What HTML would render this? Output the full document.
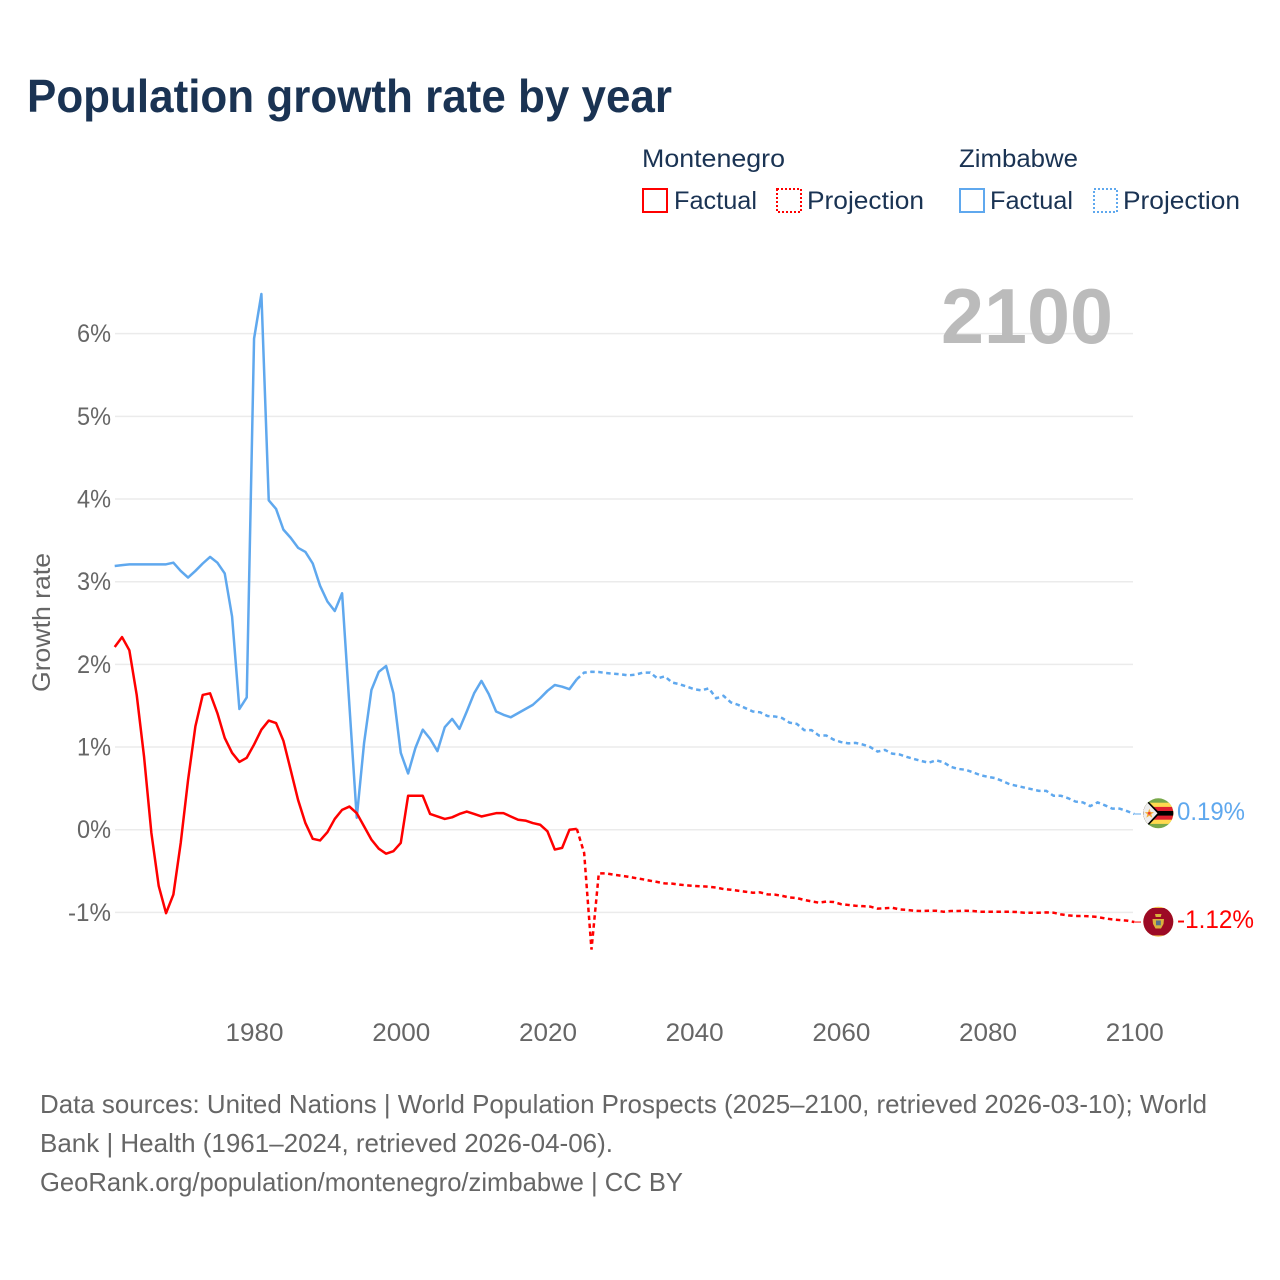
<!DOCTYPE html>
<html lang="en">
<head>
<meta charset="utf-8">
<title>Population growth rate by year</title>
<style>
html,body{margin:0;padding:0;background:#fff;}
svg{display:block;}
text{font-family:"Liberation Sans",sans-serif;}
</style>
</head>
<body>
<svg id="chart" xmlns="http://www.w3.org/2000/svg" width="1280" height="1280" viewBox="0 0 1280 1280">
  <text x="27" y="112" font-size="46" font-weight="700" fill="#1a3353" textLength="645" lengthAdjust="spacingAndGlyphs">Population growth rate by year</text>

  <g font-size="25" fill="#1a3353">
    <text x="642" y="167" textLength="143" lengthAdjust="spacingAndGlyphs">Montenegro</text>
    <text x="959" y="167" textLength="119" lengthAdjust="spacingAndGlyphs">Zimbabwe</text>
    <rect x="643" y="189" width="24" height="23" fill="none" stroke="#ff0000" stroke-width="2"/>
    <text x="674" y="209" textLength="83" lengthAdjust="spacingAndGlyphs">Factual</text>
    <rect x="777" y="189" width="24" height="23" fill="none" stroke="#ff0000" stroke-width="2" stroke-dasharray="2 2"/>
    <text x="807" y="209" textLength="117" lengthAdjust="spacingAndGlyphs">Projection</text>
    <rect x="960" y="189" width="24" height="23" fill="none" stroke="#5fa8ee" stroke-width="2"/>
    <text x="990" y="209" textLength="83" lengthAdjust="spacingAndGlyphs">Factual</text>
    <rect x="1094" y="189" width="23" height="23" fill="none" stroke="#5fa8ee" stroke-width="2" stroke-dasharray="2 2"/>
    <text x="1123" y="209" textLength="117" lengthAdjust="spacingAndGlyphs">Projection</text>
  </g>

  <g id="grid"></g>
  <g id="yTicksGroup"></g>
  <g id="xTicksGroup"></g>

  <text transform="translate(50,692) rotate(-90)" font-size="25" fill="#666666" textLength="139" lengthAdjust="spacingAndGlyphs">Growth rate</text>

  <text x="941" y="343" font-size="78" font-weight="700" fill="#bbbbbb" textLength="172" lengthAdjust="spacingAndGlyphs">2100</text>

  <g id="series"></g>

  <g>
    <clipPath id="zwClip"><circle cx="1158.3" cy="813.3" r="15"/></clipPath>
    <g clip-path="url(#zwClip)">
      <rect x="1143" y="798" width="31" height="31" fill="#78a84a"/>
      <rect x="1143" y="802.7" width="31" height="21.2" fill="#ffd94f"/>
      <rect x="1143" y="806.9" width="31" height="12.8" fill="#e0202e"/>
      <rect x="1143" y="811" width="31" height="4.6" fill="#000000"/>
      <path d="M1145 798 L1160 813.3 L1145 829 L1143 829 L1143 798 Z" fill="#000000"/>
      <path d="M1143 798 L1157.5 813.3 L1143 829 Z" fill="#eeeeee"/>
      <path d="M1149.3 808.6 L1150.6 812 L1154 812.2 L1151.3 814.3 L1152.3 817.8 L1149.3 815.7 L1146.4 817.8 L1147.3 814.3 L1144.7 812.2 L1148.1 812 Z" fill="#f7b03c"/>
      <circle cx="1149.3" cy="813.3" r="1.4" fill="#e8403a"/>
    </g>
  </g>
  <g>
    <clipPath id="meClip"><circle cx="1158.3" cy="921.7" r="15"/></clipPath>
    <g clip-path="url(#meClip)">
      <rect x="1143" y="906" width="31" height="31" fill="#f2c14e"/>
      <rect x="1143" y="908" width="31" height="27.4" fill="#9c0a25"/>
      <path d="M1155 914 h6.5 l-0.8 3 h-5 Z" fill="#d9b23c"/>
      <path d="M1152.5 919 L1164 919 L1163.5 924 L1161 928.5 L1155.5 928.5 L1153 924 Z" fill="#d9b23c"/>
      <rect x="1156" y="920.5" width="4.8" height="4.8" fill="#56708a"/>
    </g>
  </g>
  <text x="1177" y="820" font-size="25" fill="#5fa8ee" textLength="68" lengthAdjust="spacingAndGlyphs">0.19%</text>
  <text x="1177" y="928" font-size="25" fill="#ff0000" textLength="77" lengthAdjust="spacingAndGlyphs">-1.12%</text>

  <g font-size="26" fill="#666666">
    <text x="40" y="1113" textLength="1167" lengthAdjust="spacingAndGlyphs">Data sources: United Nations | World Population Prospects (2025–2100, retrieved 2026-03-10); World</text>
    <text x="40" y="1152" textLength="573" lengthAdjust="spacingAndGlyphs">Bank | Health (1961–2024, retrieved 2026-04-06).</text>
    <text x="40" y="1191" textLength="643" lengthAdjust="spacingAndGlyphs">GeoRank.org/population/montenegro/zimbabwe | CC BY</text>
  </g>
</svg>
<script>
const xTickYears = [1980, 2000, 2020, 2040, 2060, 2080, 2100];
const yTickValues = [-1, 0, 1, 2, 3, 4, 5, 6];
const factualStartYear = 1961;
const projectionStartYear = 2024;

const montenegroFactual = [2.21,2.33,2.17,1.63,0.885,-0.04,-0.68,-1.01,-0.785,-0.16,0.6,1.25,1.63,1.65,1.41,1.11,0.93,0.82,0.87,1.03,1.21,1.32,1.29,1.075,0.72,0.36,0.08,-0.11,-0.13,-0.03,0.13,0.24,0.28,0.2,0.04,-0.12,-0.23,-0.29,-0.26,-0.16,0.41,0.41,0.41,0.19,0.16,0.13,0.15,0.19,0.22,0.19,0.16,0.18,0.2,0.2,0.16,0.12,0.11,0.08,0.06,-0.02,-0.24,-0.22,0.0,0.01];
const montenegroProjection = [0.01,-0.28,-1.45,-0.528,-0.528,-0.544,-0.556,-0.569,-0.585,-0.6,-0.617,-0.633,-0.65,-0.653,-0.665,-0.673,-0.681,-0.685,-0.69,-0.7,-0.718,-0.726,-0.738,-0.75,-0.762,-0.758,-0.782,-0.786,-0.8,-0.82,-0.827,-0.85,-0.867,-0.883,-0.87,-0.875,-0.9,-0.91,-0.92,-0.925,-0.93,-0.955,-0.95,-0.944,-0.964,-0.97,-0.98,-0.984,-0.98,-0.98,-0.992,-0.984,-0.984,-0.98,-0.984,-0.992,-0.992,-0.992,-0.992,-0.992,-0.996,-1.004,-1.004,-1.004,-1.0,-1.004,-1.024,-1.036,-1.044,-1.044,-1.048,-1.056,-1.073,-1.085,-1.093,-1.1,-1.117];
const zimbabweFactual = [3.19,3.2,3.21,3.21,3.21,3.21,3.21,3.21,3.23,3.13,3.05,3.13,3.22,3.3,3.23,3.1,2.58,1.46,1.6,5.94,6.48,3.985,3.88,3.63,3.53,3.41,3.36,3.22,2.95,2.76,2.645,2.86,1.5,0.145,1.05,1.69,1.91,1.98,1.65,0.93,0.68,0.99,1.21,1.1,0.95,1.24,1.34,1.22,1.43,1.65,1.8,1.64,1.43,1.39,1.36,1.41,1.46,1.51,1.59,1.68,1.75,1.73,1.7,1.82];
const zimbabweProjection = [1.82,1.9,1.91,1.907,1.895,1.887,1.88,1.867,1.875,1.9,1.9,1.83,1.855,1.78,1.76,1.73,1.7,1.685,1.71,1.59,1.62,1.54,1.51,1.47,1.43,1.42,1.375,1.37,1.35,1.295,1.28,1.205,1.205,1.14,1.14,1.09,1.06,1.045,1.05,1.03,1.0,0.945,0.965,0.92,0.91,0.88,0.855,0.83,0.81,0.84,0.815,0.76,0.735,0.725,0.695,0.66,0.64,0.625,0.59,0.55,0.53,0.51,0.49,0.47,0.47,0.41,0.41,0.38,0.34,0.33,0.285,0.33,0.295,0.255,0.255,0.225,0.19];

const SVG_NS = 'http://www.w3.org/2000/svg';
const RED = '#ff0000';
const BLUE = '#5fa8ee';

function xScale(year) {
  return 114.7 + (year - 1961) * 7.335;
}
function yScale(value) {
  return 829.7 - value * 82.67;
}
function linePath(values, startYear) {
  return values.map(function (v, i) {
    return (i ? 'L' : 'M') + xScale(startYear + i).toFixed(2) + ' ' + yScale(v).toFixed(2);
  }).join(' ');
}

const gridGroup = document.getElementById('grid');
const yGroup = document.getElementById('yTicksGroup');
const xGroup = document.getElementById('xTicksGroup');
const seriesGroup = document.getElementById('series');

yTickValues.forEach(function (v) {
  const line = document.createElementNS(SVG_NS, 'line');
  
  
  line.setAttribute('x1', 115);
  line.setAttribute('x2', 1133);
  line.setAttribute('y1', yScale(v));
  line.setAttribute('y2', yScale(v));
  line.setAttribute('stroke', '#ebebeb');
  line.setAttribute('stroke-width', '1.5');
  gridGroup.appendChild(line);

  const label = document.createElementNS(SVG_NS, 'text');
  
  
  label.setAttribute('x', 111);
  label.setAttribute('y', yScale(v) + 8.5);
  label.setAttribute('text-anchor', 'end');
  label.setAttribute('font-size', '25');
  label.setAttribute('fill', '#666666');
  label.setAttribute('textLength', v < 0 ? 43 : 34);
  label.setAttribute('lengthAdjust', 'spacingAndGlyphs');
  label.textContent = v + '%';
  yGroup.appendChild(label);
});

xTickYears.forEach(function (year) {
  const label = document.createElementNS(SVG_NS, 'text');
  
  
  label.setAttribute('x', xScale(year) + 0.5);
  label.setAttribute('y', 1041);
  label.setAttribute('text-anchor', 'middle');
  label.setAttribute('font-size', '25');
  label.setAttribute('fill', '#666666');
  label.setAttribute('textLength', 58);
  label.setAttribute('lengthAdjust', 'spacingAndGlyphs');
  label.textContent = year;
  xGroup.appendChild(label);
});

function addProjection(values, color, name) {
  const path = document.createElementNS(SVG_NS, 'path');
  
  
  path.setAttribute('d', linePath(values, projectionStartYear));
  path.setAttribute('fill', 'none');
  path.setAttribute('stroke', color);
  path.setAttribute('stroke-width', '2.5');
  path.setAttribute('stroke-dasharray', '4.5 3.5');
  seriesGroup.appendChild(path);

  const lastValue = values[values.length - 1];
  const connector = document.createElementNS(SVG_NS, 'line');
  
  
  connector.setAttribute('x1', xScale(2100));
  connector.setAttribute('x2', 1141);
  connector.setAttribute('y1', yScale(lastValue));
  connector.setAttribute('y2', yScale(lastValue));
  connector.setAttribute('stroke', color);
  connector.setAttribute('stroke-width', '1');
  seriesGroup.appendChild(connector);
}

function addFactual(values, color, name) {
  const path = document.createElementNS(SVG_NS, 'path');
  
  
  path.setAttribute('d', linePath(values, factualStartYear));
  path.setAttribute('fill', 'none');
  path.setAttribute('stroke', color);
  path.setAttribute('stroke-width', '2.5');
  path.setAttribute('stroke-linejoin', 'round');
  seriesGroup.appendChild(path);
}

addProjection(zimbabweProjection, BLUE, 'zimbabwe-projection-line');
addFactual(zimbabweFactual, BLUE, 'zimbabwe-factual-line');
addProjection(montenegroProjection, RED, 'montenegro-projection-line');
addFactual(montenegroFactual, RED, 'montenegro-factual-line');
</script>
</body>
</html>
